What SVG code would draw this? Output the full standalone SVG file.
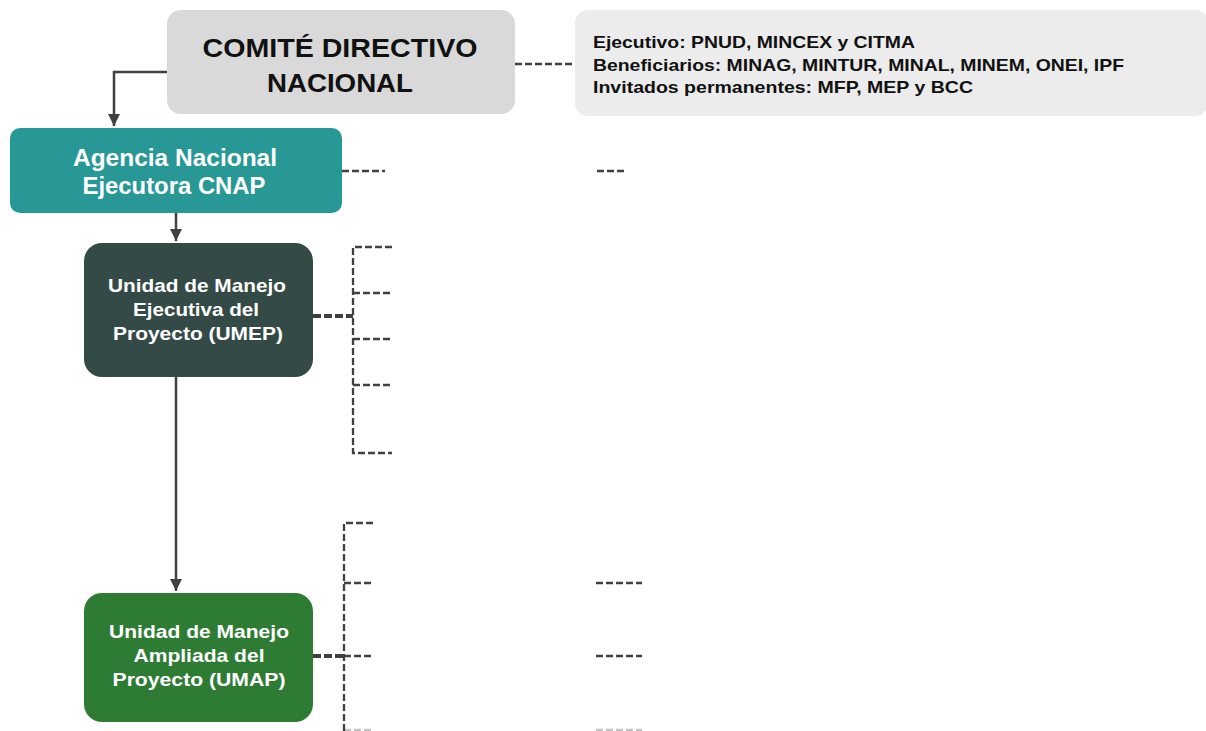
<svg xmlns="http://www.w3.org/2000/svg" width="1206" height="731" viewBox="0 0 1206 731">
<defs>
<marker id="arr" viewBox="0 0 10 10" refX="10" refY="5" markerWidth="5" markerHeight="5" orient="auto" markerUnits="strokeWidth">
<path d="M0,0 L10,5 L0,10 z" fill="#404040"/>
</marker>
<style>
text{font-family:"Liberation Sans",Arial,sans-serif;font-weight:bold;}
.w{fill:#ffffff;text-anchor:middle;}
.solid{fill:none;stroke:#404040;stroke-width:2.5;}
.dash{fill:none;stroke:#404040;stroke-width:2.3;stroke-dasharray:7 3;}
.thick{fill:none;stroke:#404040;stroke-width:4;stroke-dasharray:8 3;}
</style>
</defs>
<rect width="1206" height="731" fill="#ffffff"/>
<g id="connectors">
<path class="solid" d="M170,72 H114 V126" marker-end="url(#arr)"/>
<path class="solid" d="M176,213 V241" marker-end="url(#arr)"/>
<path class="solid" d="M176,377 V591" marker-end="url(#arr)"/>
<path class="dash" d="M515,64 H575"/>
<path class="dash" d="M342,171 H385"/>
<path class="dash" d="M597,171 H627"/>
<path class="thick" d="M313,316 H353"/>
<path class="dash" d="M392,247 H353 V453 H392"/>
<path class="dash" d="M353,293 H392"/>
<path class="dash" d="M353,339 H392"/>
<path class="dash" d="M353,385 H392"/>
<path class="thick" d="M313,656 H344"/>
<path class="dash" d="M373,523 H344 V731"/>
<path class="dash" d="M344,583 H373"/>
<path class="dash" d="M344,656 H373"/>
<path class="dash" d="M344,730 H373" stroke-opacity="0.3"/>
<path class="dash" d="M596,583 H642"/>
<path class="dash" d="M596,656 H642"/>
<path class="dash" d="M596,730 H642" stroke-opacity="0.3"/>
</g>
<g id="comite">
<rect x="167" y="10" width="348" height="104" rx="14" fill="#d9d9d9"/>
<text x="340" y="57" font-size="26" fill="#111111" text-anchor="middle" textLength="275" lengthAdjust="spacingAndGlyphs">COMITÉ DIRECTIVO</text>
<text x="340" y="92" font-size="26" fill="#111111" text-anchor="middle" textLength="146" lengthAdjust="spacingAndGlyphs">NACIONAL</text>
</g>
<g id="info">
<rect x="575" y="10" width="633" height="106" rx="13" fill="#ececec"/>
<text x="593" y="48" font-size="16.5" fill="#111111" textLength="322" lengthAdjust="spacingAndGlyphs">Ejecutivo: PNUD, MINCEX y CITMA</text>
<text x="593" y="71" font-size="16.5" fill="#111111" textLength="531" lengthAdjust="spacingAndGlyphs">Beneficiarios: MINAG, MINTUR, MINAL, MINEM, ONEI, IPF</text>
<text x="593" y="93" font-size="16.5" fill="#111111" textLength="380" lengthAdjust="spacingAndGlyphs">Invitados permanentes: MFP, MEP y BCC</text>
</g>
<g id="agencia">
<rect x="10" y="128" width="332" height="85" rx="10" fill="#289896"/>
<text class="w" x="175" y="166" font-size="23" textLength="204" lengthAdjust="spacingAndGlyphs">Agencia Nacional</text>
<text class="w" x="174" y="194" font-size="23" textLength="183" lengthAdjust="spacingAndGlyphs">Ejecutora CNAP</text>
</g>
<g id="umep">
<rect x="84" y="243" width="229" height="134" rx="18" fill="#344a46"/>
<text class="w" x="197" y="292" font-size="18.5" textLength="178" lengthAdjust="spacingAndGlyphs">Unidad de Manejo</text>
<text class="w" x="196" y="316" font-size="18.5" textLength="126" lengthAdjust="spacingAndGlyphs">Ejecutiva del</text>
<text class="w" x="198" y="340" font-size="18.5" textLength="170" lengthAdjust="spacingAndGlyphs">Proyecto (UMEP)</text>
</g>
<g id="umap">
<rect x="84" y="593" width="229" height="129" rx="18" fill="#2e7b34"/>
<text class="w" x="199" y="638" font-size="18.5" textLength="180" lengthAdjust="spacingAndGlyphs">Unidad de Manejo</text>
<text class="w" x="199" y="662" font-size="18.5" textLength="131" lengthAdjust="spacingAndGlyphs">Ampliada del</text>
<text class="w" x="199" y="686" font-size="18.5" textLength="173" lengthAdjust="spacingAndGlyphs">Proyecto (UMAP)</text>
</g>
</svg>
